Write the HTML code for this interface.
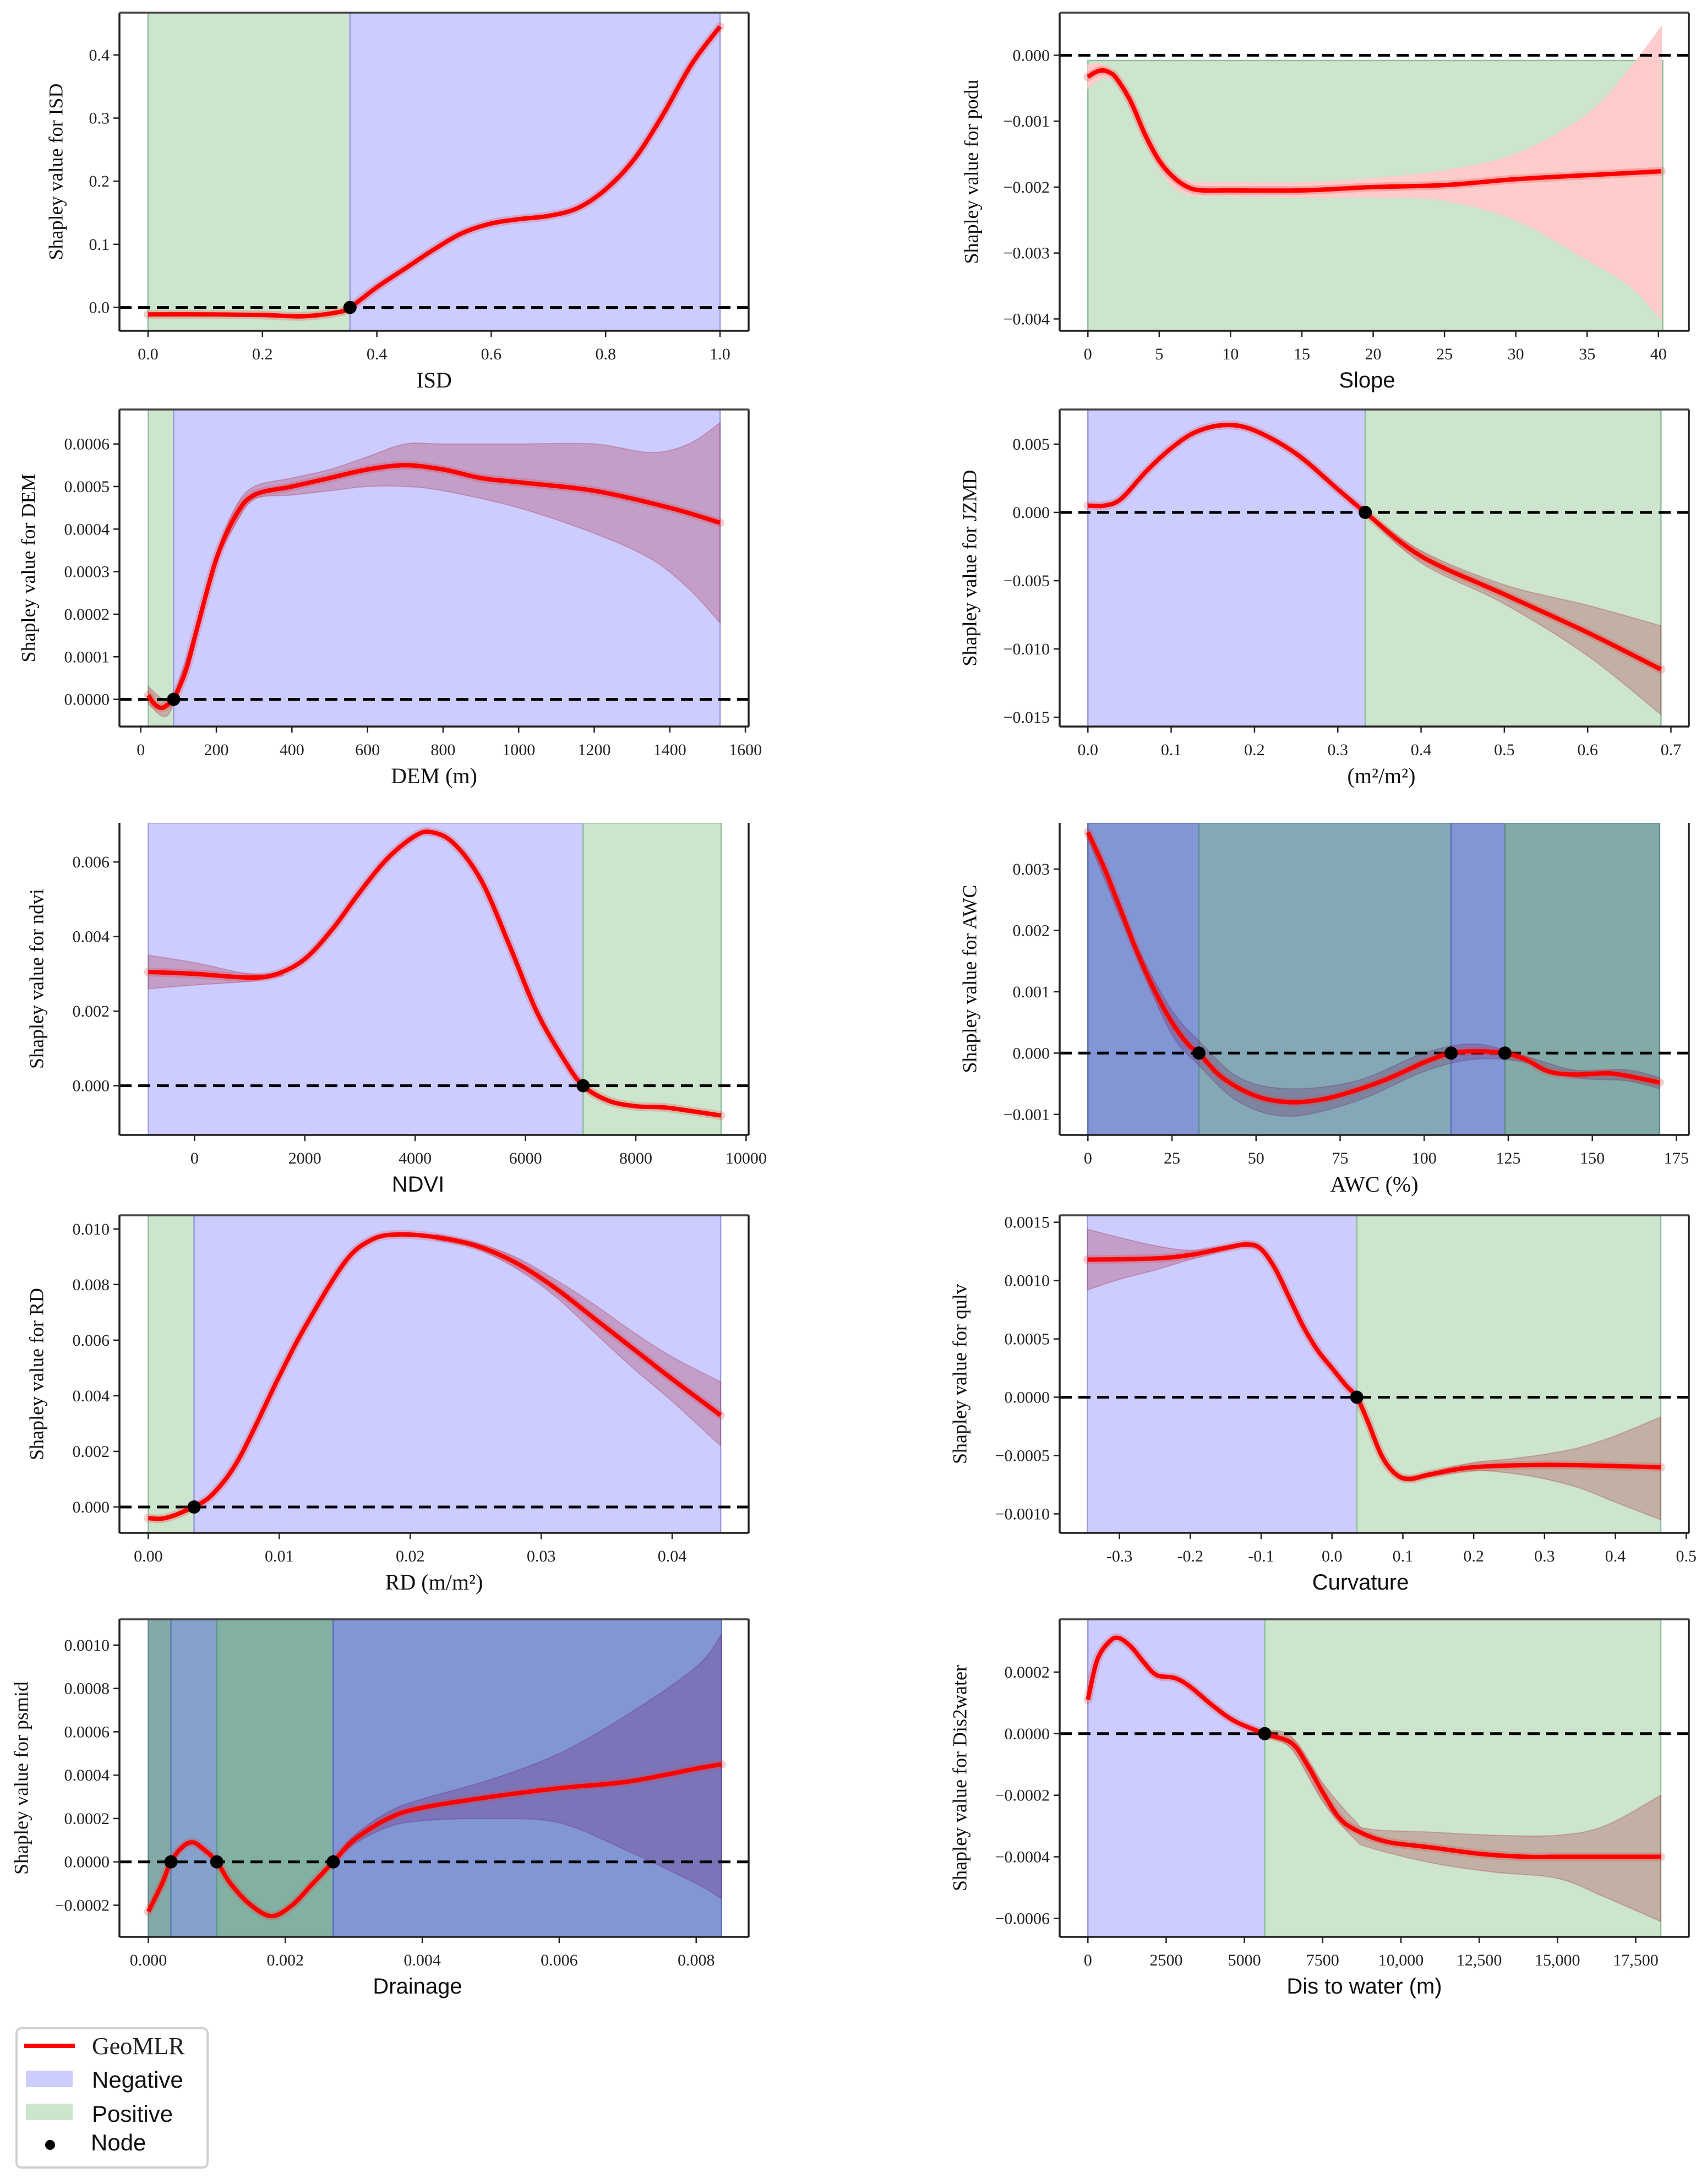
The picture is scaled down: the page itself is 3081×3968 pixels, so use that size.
<!DOCTYPE html>
<html><head><meta charset="utf-8">
<style>
html,body{margin:0;padding:0;background:#fff;}
svg{display:block;}
</style></head>
<body>
<svg id="fig" xmlns="http://www.w3.org/2000/svg" width="3081" height="3968" viewBox="0 0 3081 3968">
<rect x="0" y="0" width="3081" height="3968" fill="#fff"/>
<g id="panels"></g>
<g>
  <rect x="30" y="3685" width="347" height="253" rx="9" fill="#fff" stroke="#d0d0d0" stroke-width="4"/>
  <line x1="44" y1="3717" x2="136" y2="3717" stroke="#f00" stroke-width="8"/>
  <text x="167" y="3732" font-family="Liberation Serif, serif" font-size="44" fill="#222">GeoMLR</text>
  <rect x="47" y="3762" width="85" height="30" fill="#ccccff"/>
  <text x="167" y="3793" font-family="Liberation Sans, sans-serif" font-size="42" fill="#111">Negative</text>
  <rect x="47" y="3822" width="85" height="30" fill="#cce5cc"/>
  <text x="167" y="3855" font-family="Liberation Sans, sans-serif" font-size="42" fill="#111">Positive</text>
  <circle cx="91" cy="3897" r="9" fill="#000"/>
  <text x="165" y="3907" font-family="Liberation Sans, sans-serif" font-size="42" fill="#111">Node</text>
</g>
</svg>
<script>
// ---------------- DATA ----------------
// ISD
const isdX = [0,0.1,0.2,0.27,0.33,0.353,0.4,0.45,0.5,0.55,0.6,0.65,0.7,0.75,0.8,0.85,0.9,0.95,1.0];
const isdY = [-0.011,-0.011,-0.012,-0.014,-0.008,0,0.032,0.062,0.092,0.118,0.133,0.14,0.145,0.157,0.187,0.235,0.305,0.385,0.445];
const isdBandX = [];
const isdUpper = [];
const isdLower = [];
const isdRegionEdges = [0,0.353,1.0];
const isdRegionTypes = ['pos','neg'];
const isdNodes = [0.353];
const isdXTicks = [0,0.2,0.4,0.6,0.8,1.0];
const isdXTickLabels = ['0.0','0.2','0.4','0.6','0.8','1.0'];
const isdYTicks = [0,0.1,0.2,0.3,0.4];
const isdYTickLabels = ['0.0','0.1','0.2','0.3','0.4'];

// Slope (podu)
const slopeX = [0,0.5,1,1.5,2,3,4,5,6,7,8,10,15,20,25,30,35,40.2];
const slopeY = [-0.00033,-0.00026,-0.00023,-0.00026,-0.00035,-0.0007,-0.0012,-0.0016,-0.00185,-0.002,-0.00205,-0.00205,-0.00205,-0.002,-0.00197,-0.00188,-0.00182,-0.00176];
const slopeBandX = [0,1,2,3,4,5,6,7,8,15,20,25,30,35,38,40.2];
const slopeUpper = [-0.00015,-0.00014,-0.0003,-0.0006,-0.0011,-0.0015,-0.0018,-0.0019,-0.00193,-0.00193,-0.00187,-0.00175,-0.0015,-0.0009,-0.0002,0.00043];
const slopeLower = [-0.0005,-0.00035,-0.0004,-0.0008,-0.0013,-0.0017,-0.0020,-0.0021,-0.00213,-0.00215,-0.00215,-0.0022,-0.0025,-0.0031,-0.0035,-0.0040];
const slopeRegionEdges = [0,40.3];
const slopeRegionTypes = ['pos'];
const slopeNodes = [];
const slopeXTicks = [0,5,10,15,20,25,30,35,40];
const slopeXTickLabels = ['0','5','10','15','20','25','30','35','40'];
const slopeYTicks = [0,-0.001,-0.002,-0.003,-0.004];
const slopeYTickLabels = ['0.000','\u22120.001','\u22120.002','\u22120.003','\u22120.004'];

// DEM
const demX = [20,35,55,75,87,120,150,200,250,300,400,500,600,700,800,900,1000,1200,1400,1533];
const demY = [0.00001,-0.00001,-0.00002,-0.00001,0,0.00007,0.00017,0.00033,0.00043,0.00048,0.0005,0.00052,0.00054,0.00055,0.00054,0.00052,0.00051,0.00049,0.00045,0.000415];
const demBandX = [20,60,87,150,200,250,300,400,500,600,700,800,1000,1200,1350,1450,1533];
const demUpper = [0.00003,0.0,0.00001,0.00018,0.00034,0.00045,0.0005,0.00052,0.00054,0.00057,0.0006,0.0006,0.0006,0.0006,0.00058,0.0006,0.00065];
const demLower = [-0.00001,-0.00004,-0.00001,0.00016,0.00032,0.00041,0.00047,0.00048,0.00049,0.0005,0.0005,0.00049,0.00045,0.00039,0.00033,0.00026,0.00018];
const demRegionEdges = [20,87,1533];
const demRegionTypes = ['pos','neg'];
const demNodes = [87];
const demXTicks = [0,200,400,600,800,1000,1200,1400,1600];
const demXTickLabels = ['0','200','400','600','800','1000','1200','1400','1600'];
const demYTicks = [0,0.0001,0.0002,0.0003,0.0004,0.0005,0.0006];
const demYTickLabels = ['0.0000','0.0001','0.0002','0.0003','0.0004','0.0005','0.0006'];

// JZMD
const jzX = [0,0.02,0.04,0.07,0.1,0.13,0.165,0.2,0.25,0.3,0.333,0.4,0.5,0.6,0.688];
const jzY = [0.0005,0.0005,0.001,0.003,0.0047,0.0059,0.0064,0.006,0.0043,0.0017,0,-0.0032,-0.006,-0.0088,-0.0115];
const jzBandX = [0.333,0.4,0.5,0.6,0.688];
const jzUpper = [0.0001,-0.0028,-0.0053,-0.0068,-0.0083];
const jzLower = [-0.0001,-0.0037,-0.0067,-0.0105,-0.0148];
const jzRegionEdges = [0,0.333,0.688];
const jzRegionTypes = ['neg','pos'];
const jzNodes = [0.333];
const jzXTicks = [0,0.1,0.2,0.3,0.4,0.5,0.6,0.7];
const jzXTickLabels = ['0.0','0.1','0.2','0.3','0.4','0.5','0.6','0.7'];
const jzYTicks = [0.005,0,-0.005,-0.01,-0.015];
const jzYTickLabels = ['0.005','0.000','\u22120.005','\u22120.010','\u22120.015'];

// NDVI
const ndviX = [-837,0,1000,1500,2000,2500,3000,3500,4000,4300,4700,5200,5700,6200,6700,7045,7500,8000,8500,9000,9547];
const ndviY = [0.00305,0.003,0.0029,0.003,0.0034,0.0042,0.0052,0.0061,0.0067,0.0068,0.0065,0.0055,0.0038,0.002,0.0007,0,-0.0004,-0.00055,-0.00058,-0.00068,-0.0008];
const ndviBandX = [-837,0,1000,1600];
const ndviUpper = [0.0035,0.0033,0.003,0.00305];
const ndviLower = [0.0026,0.0027,0.0028,0.00295];
const ndviRegionEdges = [-837,7045,9547];
const ndviRegionTypes = ['neg','pos'];
const ndviNodes = [7045];
const ndviXTicks = [0,2000,4000,6000,8000,10000];
const ndviXTickLabels = ['0','2000','4000','6000','8000','10000'];
const ndviYTicks = [0,0.002,0.004,0.006];
const ndviYTickLabels = ['0.000','0.002','0.004','0.006'];

// AWC
const awcX = [0,5,10,15,20,25,30,33,40,50,60,70,80,90,100,108,115,120,124,130,137,145,155,163,170];
const awcY = [0.0036,0.003,0.0023,0.0016,0.001,0.0005,0.00013,0,-0.0004,-0.0007,-0.0008,-0.00075,-0.0006,-0.0004,-0.00015,0,0.00003,0.00002,0,-0.0001,-0.0003,-0.00035,-0.00033,-0.0004,-0.00048];
const awcBandX = [0,15,25,33,45,60,80,100,115,130,145,160,170];
const awcUpper = [0.0036,0.0017,0.0007,0.0002,-0.0004,-0.00058,-0.00045,0.0,0.00015,-0.00005,-0.00028,-0.00027,-0.0004];
const awcLower = [0.0035,0.0015,0.0003,-0.0002,-0.0008,-0.00103,-0.00078,-0.0003,-0.0001,-0.00015,-0.0004,-0.00045,-0.00058];
const awcRegionEdges = [0,33,108,124,170];
const awcRegionTypes = ['dneg','dpos','dneg','dpos2'];
const awcNodes = [33,108,124];
const awcXTicks = [0,25,50,75,100,125,150,175];
const awcXTickLabels = ['0','25','50','75','100','125','150','175'];
const awcYTicks = [-0.001,0,0.001,0.002,0.003];
const awcYTickLabels = ['\u22120.001','0.000','0.001','0.002','0.003'];

// RD
const rdX = [0,0.001,0.002,0.003,0.0035,0.005,0.007,0.01,0.012,0.015,0.017,0.019,0.022,0.025,0.028,0.031,0.034,0.037,0.04,0.0437];
const rdY = [-0.0004,-0.00042,-0.0003,-0.0001,0,0.0005,0.0018,0.0047,0.0065,0.0088,0.0096,0.0098,0.0097,0.0094,0.0088,0.0079,0.0068,0.0057,0.0046,0.0033];
const rdBandX = [0.022,0.025,0.028,0.031,0.034,0.037,0.04,0.0437];
const rdUpper = [0.0098,0.0095,0.009,0.0082,0.0073,0.0063,0.0054,0.0045];
const rdLower = [0.0096,0.0093,0.0086,0.0076,0.0063,0.005,0.0038,0.0022];
const rdRegionEdges = [0,0.0035,0.0437];
const rdRegionTypes = ['pos','neg'];
const rdNodes = [0.0035];
const rdXTicks = [0,0.01,0.02,0.03,0.04];
const rdXTickLabels = ['0.00','0.01','0.02','0.03','0.04'];
const rdYTicks = [0,0.002,0.004,0.006,0.008,0.010];
const rdYTickLabels = ['0.000','0.002','0.004','0.006','0.008','0.010'];

// Curvature (qulv)
const curvX = [-0.345,-0.25,-0.2,-0.15,-0.12,-0.1,-0.08,-0.06,-0.04,-0.02,0,0.02,0.035,0.05,0.07,0.09,0.11,0.14,0.2,0.3,0.4,0.464];
const curvY = [0.00118,0.00119,0.00122,0.00128,0.00131,0.00127,0.0011,0.00085,0.0006,0.0004,0.00025,0.0001,0,-0.0002,-0.0005,-0.00066,-0.0007,-0.00066,-0.0006,-0.00058,-0.00059,-0.0006];
const curvBandX = [-0.345,-0.3,-0.25,-0.2,-0.15,-0.12,-0.1,-0.08,-0.06,-0.04,-0.02,0,0.02,0.035,0.05,0.07,0.09,0.11,0.14,0.2,0.25,0.3,0.35,0.4,0.464];
const curvUpper = [0.00144,0.00137,0.0013,0.00126,0.0013,0.00133,0.00129,0.00112,0.00087,0.00062,0.00042,0.00027,0.00012,0.00002,-0.00018,-0.00048,-0.00064,-0.00068,-0.00064,-0.00056,-0.00053,-0.00049,-0.00043,-0.00033,-0.00017];
const curvLower = [0.00092,0.00101,0.00109,0.00118,0.00126,0.00129,0.00125,0.00108,0.00083,0.00058,0.00038,0.00023,0.00008,-0.00002,-0.00022,-0.00052,-0.00068,-0.00072,-0.00068,-0.00063,-0.00065,-0.0007,-0.00078,-0.0009,-0.00105];
const curvRegionEdges = [-0.345,0.035,0.464];
const curvRegionTypes = ['neg','pos'];
const curvNodes = [0.035];
const curvXTicks = [-0.3,-0.2,-0.1,0,0.1,0.2,0.3,0.4,0.5];
const curvXTickLabels = ['-0.3','-0.2','-0.1','0.0','0.1','0.2','0.3','0.4','0.5'];
const curvYTicks = [-0.001,-0.0005,0,0.0005,0.001,0.0015];
const curvYTickLabels = ['\u22120.0010','\u22120.0005','0.0000','0.0005','0.0010','0.0015'];

// Drainage (psmid)
const drX = [0,0.0002,0.00033,0.0005,0.00065,0.0008,0.001,0.0012,0.0015,0.0018,0.0021,0.0024,0.0027,0.003,0.0035,0.004,0.005,0.006,0.007,0.008,0.00837];
const drY = [-0.00023,-0.0001,0,0.00007,0.00009,0.00006,0,-0.0001,-0.0002,-0.00025,-0.0002,-0.0001,0,0.0001,0.0002,0.00025,0.0003,0.00034,0.00037,0.00043,0.00045];
const drBandX = [0.0027,0.003,0.0035,0.004,0.005,0.006,0.007,0.008,0.00837];
const drUpper = [0.00001,0.00012,0.00023,0.00029,0.00038,0.0005,0.00068,0.0009,0.00105];
const drLower = [-0.00001,0.00008,0.00016,0.00019,0.0002,0.00018,0.00005,-0.0001,-0.00017];
const drRegionEdges = [0,0.00033,0.001,0.0027,0.00837];
const drRegionTypes = ['dpos2','dmid','dpos3','dneg'];
const drNodes = [0.00033,0.001,0.0027];
const drXTicks = [0,0.002,0.004,0.006,0.008];
const drXTickLabels = ['0.000','0.002','0.004','0.006','0.008'];
const drYTicks = [-0.0002,0,0.0002,0.0004,0.0006,0.0008,0.001];
const drYTickLabels = ['\u22120.0002','0.0000','0.0002','0.0004','0.0006','0.0008','0.0010'];

// Dis to water
const dwX = [0,300,700,1000,1400,1800,2200,2800,3300,4000,4700,5650,6500,7000,7500,8000,8500,9500,11000,12500,14000,15000,16500,18300];
const dwY = [0.00011,0.00024,0.0003,0.00031,0.00028,0.00023,0.00019,0.00018,0.00015,0.00009,0.00004,0,-0.00003,-0.0001,-0.00019,-0.00027,-0.00031,-0.00035,-0.00037,-0.00039,-0.0004,-0.0004,-0.0004,-0.0004];
const dwBandX = [5650,6500,7500,8500,9000,11000,13000,15000,16500,18300];
const dwUpper = [0.00001,-0.00001,-0.00016,-0.00028,-0.00031,-0.00032,-0.00033,-0.00033,-0.0003,-0.0002];
const dwLower = [-0.00001,-0.00005,-0.00022,-0.00034,-0.00037,-0.00042,-0.00045,-0.00047,-0.00053,-0.00061];
const dwRegionEdges = [0,5650,18300];
const dwRegionTypes = ['neg','pos'];
const dwNodes = [5650];
const dwXTicks = [0,2500,5000,7500,10000,12500,15000,17500];
const dwXTickLabels = ['0','2500','5000','7500','10,000','12,500','15,000','17,500'];
const dwYTicks = [-0.0006,-0.0004,-0.0002,0,0.0002];
const dwYTickLabels = ['\u22120.0006','\u22120.0004','\u22120.0002','0.0000','0.0002'];

// ---------------- LAYOUT / STYLE ----------------
const REGION_FILL = {neg:'#ccccff', pos:'#cce5cc', dneg:'#8296d6', dpos:'#84a8b6', dpos2:'#82aaa8', dmid:'#84a2cc', dpos3:'#82b0a2'};
const REGION_EDGE = {neg:'#9a9ae6', pos:'#8fbf9f', dneg:'#5a6fb8', dpos:'#5f8a9c', dpos2:'#5f8a8a', dmid:'#5f7fb0', dpos3:'#5f9a8a'};
const SERIF = 'Liberation Serif, serif';
const SANS = 'Liberation Sans, sans-serif';

const panels = [
 {id:'isd', box:[217,23,1360,601], xlim:[-0.05,1.05], ylim:[-0.037,0.467], X:isdX, Y:isdY, BX:isdBandX, BU:isdUpper, BL:isdLower,
  edges:isdRegionEdges, types:isdRegionTypes, nodes:isdNodes, xt:isdXTicks, xtl:isdXTickLabels, yt:isdYTicks, ytl:isdYTickLabels,
  ytitle:'Shapley value for ISD', ytx:105, xlabel:'ISD', xfont:SERIF, lx:0, top:true, band:'rgba(170,40,60,0.28)'},
 {id:'slope', box:[1925,23,3068,601], xlim:[-1.98,42.13], ylim:[-0.00418,0.000646], X:slopeX, Y:slopeY, BX:slopeBandX, BU:slopeUpper, BL:slopeLower,
  edges:slopeRegionEdges, types:slopeRegionTypes, regionTop:-0.00008, nodes:slopeNodes, xt:slopeXTicks, xtl:slopeXTickLabels, yt:slopeYTicks, ytl:slopeYTickLabels,
  ytitle:'Shapley value for podu', ytx:1768, xlabel:'Slope', xfont:SANS, lx:-13, top:true, band:'rgba(255,202,202,0.95)'},
 {id:'dem', box:[217,744,1360,1320], xlim:[-56.4,1608.6], ylim:[-0.0000639,0.000681], X:demX, Y:demY, BX:demBandX, BU:demUpper, BL:demLower,
  edges:demRegionEdges, types:demRegionTypes, nodes:demNodes, xt:demXTicks, xtl:demXTickLabels, yt:demYTicks, ytl:demYTickLabels,
  ytitle:'Shapley value for DEM', ytx:55, xlabel:'DEM (m)', xfont:SERIF, lx:0, top:true, band:'rgba(170,40,60,0.28)'},
 {id:'jzmd', box:[1925,744,3068,1320], xlim:[-0.0339,0.7215], ylim:[-0.01568,0.007536], X:jzX, Y:jzY, BX:jzBandX, BU:jzUpper, BL:jzLower,
  edges:jzRegionEdges, types:jzRegionTypes, nodes:jzNodes, xt:jzXTicks, xtl:jzXTickLabels, yt:jzYTicks, ytl:jzYTickLabels,
  ytitle:'Shapley value for JZMD', ytx:1765, xlabel:'(m\u00b2/m\u00b2)', xfont:SERIF, lx:13, top:true, band:'rgba(170,40,60,0.28)'},
 {id:'ndvi', box:[217,1495,1360,2062], xlim:[-1361,10046], ylim:[-0.00132,0.00705], X:ndviX, Y:ndviY, BX:ndviBandX, BU:ndviUpper, BL:ndviLower,
  edges:ndviRegionEdges, types:ndviRegionTypes, nodes:ndviNodes, xt:ndviXTicks, xtl:ndviXTickLabels, yt:ndviYTicks, ytl:ndviYTickLabels,
  ytitle:'Shapley value for ndvi', ytx:70, xlabel:'NDVI', xfont:SANS, lx:-29, top:false, band:'rgba(170,40,60,0.28)'},
 {id:'awc', box:[1925,1495,3068,2062], xlim:[-8.4,178.7], ylim:[-0.001334,0.003753], X:awcX, Y:awcY, BX:awcBandX, BU:awcUpper, BL:awcLower,
  edges:awcRegionEdges, types:awcRegionTypes, nodes:awcNodes, xt:awcXTicks, xtl:awcXTickLabels, yt:awcYTicks, ytl:awcYTickLabels,
  ytitle:'Shapley value for AWC', ytx:1765, xlabel:'AWC (%)', xfont:SERIF, lx:0, top:false, band:'rgba(110,50,110,0.3)'},
 {id:'rd', box:[217,2208,1360,2785], xlim:[-0.0022,0.04584], ylim:[-0.00093,0.01049], X:rdX, Y:rdY, BX:rdBandX, BU:rdUpper, BL:rdLower,
  edges:rdRegionEdges, types:rdRegionTypes, nodes:rdNodes, xt:rdXTicks, xtl:rdXTickLabels, yt:rdYTicks, ytl:rdYTickLabels,
  ytitle:'Shapley value for RD', ytx:70, xlabel:'RD (m/m\u00b2)', xfont:SERIF, lx:0, top:true, band:'rgba(170,40,60,0.28)'},
 {id:'curv', box:[1925,2208,3068,2785], xlim:[-0.3844,0.5037], ylim:[-0.001163,0.00156], X:curvX, Y:curvY, BX:curvBandX, BU:curvUpper, BL:curvLower,
  edges:curvRegionEdges, types:curvRegionTypes, nodes:curvNodes, xt:curvXTicks, xtl:curvXTickLabels, yt:curvYTicks, ytl:curvYTickLabels,
  ytitle:'Shapley value for qulv', ytx:1747, xlabel:'Curvature', xfont:SANS, lx:-25, top:true, band:'rgba(170,40,60,0.28)'},
 {id:'drainage', box:[217,2942,1360,3519], xlim:[-0.000422,0.008766], ylim:[-0.000346,0.001119], X:drX, Y:drY, BX:drBandX, BU:drUpper, BL:drLower,
  edges:drRegionEdges, types:drRegionTypes, nodes:drNodes, xt:drXTicks, xtl:drXTickLabels, yt:drYTicks, ytl:drYTickLabels,
  ytitle:'Shapley value for psmid', ytx:42, xlabel:'Drainage', xfont:SANS, lx:-30, top:true, band:'rgba(110,40,120,0.3)'},
 {id:'dis2water', box:[1925,2942,3068,3519], xlim:[-902,19198], ylim:[-0.00066,0.0003714], X:dwX, Y:dwY, BX:dwBandX, BU:dwUpper, BL:dwLower,
  edges:dwRegionEdges, types:dwRegionTypes, nodes:dwNodes, xt:dwXTicks, xtl:dwXTickLabels, yt:dwYTicks, ytl:dwYTickLabels,
  ytitle:'Shapley value for Dis2water', ytx:1747, xlabel:'Dis to water (m)', xfont:SANS, lx:-18, top:true, band:'rgba(170,40,60,0.28)'}
];

// ---------------- RENDER ----------------
const NS = 'http://www.w3.org/2000/svg';
function mk(tag, attrs, parent){
  const el = document.createElementNS(NS, tag);
  for (const k in attrs) el.setAttribute(k, attrs[k]);
  if (parent) parent.appendChild(el);
  return el;
}
function smooth(pts, move){
  let d = move ? 'M'+pts[0][0].toFixed(1)+','+pts[0][1].toFixed(1) : 'L'+pts[0][0].toFixed(1)+','+pts[0][1].toFixed(1);
  for (let i=0;i<pts.length-1;i++){
    const p0=pts[i-1]||pts[i], p1=pts[i], p2=pts[i+1], p3=pts[i+2]||pts[i+1];
    const c1=[p1[0]+(p2[0]-p0[0])/6, p1[1]+(p2[1]-p0[1])/6];
    const c2=[p2[0]-(p3[0]-p1[0])/6, p2[1]-(p3[1]-p1[1])/6];
    d += 'C'+c1[0].toFixed(1)+','+c1[1].toFixed(1)+' '+c2[0].toFixed(1)+','+c2[1].toFixed(1)+' '+p2[0].toFixed(1)+','+p2[1].toFixed(1);
  }
  return d;
}
const root = document.getElementById('panels');
panels.forEach(p=>{
  const [L,T,R,B] = p.box;
  const sx = v => L + (v - p.xlim[0])/(p.xlim[1]-p.xlim[0])*(R-L);
  const sy = v => B - (v - p.ylim[0])/(p.ylim[1]-p.ylim[0])*(B-T);
  const g = mk('g', {}, root);
  
  
  const clipId = 'clip-'+p.id;
  const cp = mk('clipPath', {id:clipId}, g);
  mk('rect', {x:L, y:T, width:R-L, height:B-T}, cp);
  const plot = mk('g', {'clip-path':'url(#'+clipId+')'}, g);
  for (let i=0;i<p.types.length;i++){
    const x0=sx(p.edges[i]), x1=sx(p.edges[i+1]);
    const y0 = p.regionTop!==undefined ? sy(p.regionTop) : T;
    const r = mk('rect', {x:x0, y:y0, width:x1-x0, height:B-y0, fill:REGION_FILL[p.types[i]], stroke:REGION_EDGE[p.types[i]], 'stroke-width':2.5}, plot);
    
    
  }
  if (p.BX.length>1){
    const up = p.BX.map((x,i)=>[sx(x), sy(p.BU[i])]);
    const lo = p.BX.map((x,i)=>[sx(x), sy(p.BL[i])]).reverse();
    const band = mk('path', {d: smooth(up,true)+smooth(lo,false)+'Z', fill:p.band, stroke:p.band, 'stroke-width':2}, plot);
    
    
  }
  const zl = mk('line', {x1:L, x2:R, y1:sy(0), y2:sy(0), stroke:'#000', 'stroke-width':5, 'stroke-dasharray':'22 12'}, plot);
  
  
  const cpts = p.X.map((x,i)=>[sx(x), sy(p.Y[i])]);
  const dcurve = smooth(cpts, true);
  mk('path', {d:dcurve, fill:'none', stroke:'rgba(230,60,60,0.25)', 'stroke-width':16, 'stroke-linecap':'round'}, plot);
  const curve = mk('path', {d:dcurve, fill:'none', stroke:'#ff0000', 'stroke-width':8, 'stroke-linejoin':'round'}, plot);
  
  
  p.nodes.forEach((n,i)=>{
    const c = mk('circle', {cx:sx(n), cy:sy(0), r:12, fill:'#000'}, plot);
    
    
  });
  const sp = mk('g', {stroke:'#222', 'stroke-width':3.5, fill:'none'}, g);
  
  
  mk('line', {x1:L, y1:B, x2:R, y2:B}, sp);
  mk('line', {x1:L, y1:T, x2:L, y2:B}, sp);
  mk('line', {x1:R, y1:T, x2:R, y2:B}, sp);
  if (p.top) mk('line', {x1:L, y1:T, x2:R, y2:T, stroke:'#444'}, sp);
  const xa = mk('g', {}, g);
  
  
  p.xt.forEach((v,i)=>{
    const x = sx(v);
    mk('line', {x1:x, x2:x, y1:B, y2:B+11, stroke:'#222', 'stroke-width':2.5}, xa);
    const t = mk('text', {x:x, y:B+52, 'text-anchor':'middle', 'font-family':SERIF, 'font-size':30, fill:'#222'}, xa);
    t.textContent = p.xtl[i];
    
    
  });
  const xl = mk('text', {x:(L+R)/2+p.lx, y:B+103, 'text-anchor':'middle', 'font-family':p.xfont, 'font-size':40, fill:'#111'}, g);
  xl.textContent = p.xlabel;
  
  
  const ya = mk('g', {}, g);
  
  
  p.yt.forEach((v,i)=>{
    const y = sy(v);
    mk('line', {x1:L-11, x2:L, y1:y, y2:y, stroke:'#222', 'stroke-width':2.5}, ya);
    const t = mk('text', {x:L-18, y:y+10, 'text-anchor':'end', 'font-family':SERIF, 'font-size':30, fill:'#222'}, ya);
    t.textContent = p.ytl[i];
    
    
  });
  const cy = (T+B)/2;
  const yl = mk('text', {x:p.ytx, y:cy, 'text-anchor':'middle', 'font-family':SERIF, 'font-size':36, fill:'#111', transform:'rotate(-90 '+p.ytx+' '+cy+')', 'dominant-baseline':'middle'}, g);
  yl.textContent = p.ytitle;
  
  
});
</script>
</body></html>
